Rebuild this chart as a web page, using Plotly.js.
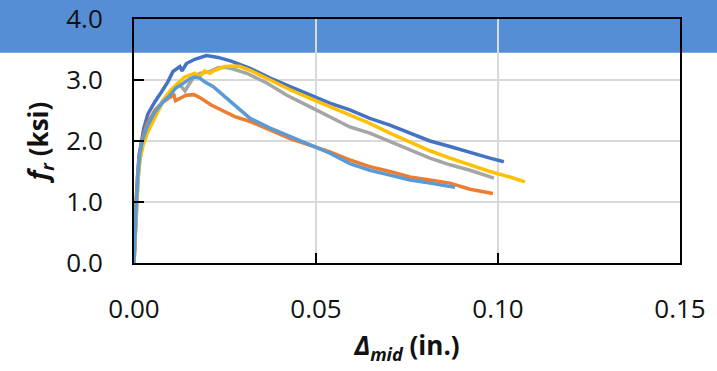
<!DOCTYPE html>
<html>
<head>
<meta charset="utf-8">
<script src="https://cdn.plot.ly/plotly-3.0.1.min.js"></script>
<style>html,body{margin:0;padding:0;background:#fff;}#chart{width:717px;height:371px;}</style>
</head>
<body>
<div id="chart"></div>
<script>
// Series 1 (dark blue)
const x1 = [0,0.00027,0.0006,0.001,0.0014,0.002,0.0027,0.0038,0.0057,0.0075,0.0093,0.0107,0.0126,0.0132,0.0144,0.0167,0.0199,0.0231,0.0267,0.0319,0.0374,0.0429,0.0484,0.0538,0.0593,0.0648,0.0703,0.0758,0.0813,0.0868,0.0923,0.0978,0.1016];
const y1 = [0,0.46,0.95,1.44,1.77,1.96,2.21,2.44,2.64,2.80,2.97,3.14,3.22,3.15,3.27,3.34,3.40,3.37,3.31,3.19,3.03,2.89,2.75,2.62,2.51,2.37,2.26,2.13,2.00,1.91,1.81,1.72,1.66];
// Series 2 (orange)
const x2 = [0,0.00022,0.00055,0.001,0.0015,0.0022,0.0036,0.0058,0.008,0.0099,0.011,0.0114,0.0124,0.0143,0.0165,0.0184,0.0212,0.0239,0.0277,0.0319,0.0374,0.0429,0.0484,0.0538,0.0593,0.0648,0.0703,0.0758,0.0813,0.0868,0.0923,0.0986];
const y2 = [0,0.54,1.03,1.44,1.77,2.02,2.28,2.51,2.64,2.72,2.75,2.66,2.69,2.75,2.76,2.70,2.59,2.51,2.40,2.32,2.18,2.04,1.93,1.82,1.69,1.58,1.50,1.41,1.36,1.31,1.21,1.14];
// Series 3 (gray)
const x3 = [0,0.00027,0.0007,0.0011,0.0016,0.0025,0.0038,0.0058,0.008,0.0099,0.0115,0.0126,0.014,0.0151,0.0165,0.0181,0.0209,0.0231,0.0253,0.0272,0.031,0.0365,0.042,0.0484,0.0538,0.0593,0.0648,0.0703,0.0758,0.0813,0.0868,0.0923,0.0989];
const y3 = [0,0.41,0.90,1.36,1.69,1.97,2.21,2.46,2.67,2.80,2.90,2.92,2.82,2.93,3.05,3.11,3.14,3.20,3.21,3.18,3.11,2.95,2.75,2.56,2.40,2.23,2.13,1.99,1.85,1.72,1.61,1.52,1.39];
// Series 4 (yellow)
const x4 = [0,0.00027,0.0007,0.0011,0.0016,0.0025,0.0038,0.0066,0.0084,0.0102,0.0121,0.0139,0.0153,0.0167,0.018,0.0194,0.0208,0.0222,0.0249,0.0277,0.0291,0.0319,0.0374,0.0429,0.0484,0.0538,0.0593,0.0648,0.0703,0.0758,0.0813,0.0868,0.0923,0.0978,0.1033,0.1074];
const y4 = [0,0.38,0.87,1.36,1.69,1.93,2.15,2.48,2.70,2.84,2.95,3.05,3.08,3.11,3.05,3.15,3.11,3.16,3.22,3.23,3.22,3.16,3.00,2.84,2.70,2.56,2.43,2.29,2.13,1.99,1.84,1.72,1.61,1.50,1.41,1.33];
// Series 5 (light blue)
const x5 = [0,0.0002,0.0006,0.0011,0.0016,0.0025,0.0038,0.0058,0.008,0.0099,0.0115,0.0129,0.0153,0.0167,0.0181,0.0194,0.0218,0.0255,0.0282,0.0319,0.0374,0.0429,0.0484,0.0538,0.0593,0.0648,0.0703,0.0758,0.0813,0.0849,0.0882];
const y5 = [0,0.38,0.92,1.46,1.80,2.05,2.26,2.48,2.64,2.75,2.87,2.92,3.02,3.05,3.03,2.97,2.89,2.70,2.56,2.37,2.21,2.07,1.93,1.80,1.63,1.52,1.44,1.36,1.31,1.28,1.24];

const seriesX = [x1, x2, x3, x4, x5];
const seriesY = [y1, y2, y3, y4, y5];
const colors = ['#4472C4', '#ED7D31', '#A5A5A5', '#FFC000', '#5B9BD5'];

const data = seriesX.map((xs, i) => ({
  x: xs, y: seriesY[i], type: 'scatter', mode: 'lines',
  line: {color: colors[i], width: 3.5}, hoverinfo: 'skip'
}));

const fam = '"Open Sans", sans-serif';

const layout = {
  width: 717, height: 371,
  margin: {l: 134, r: 37, t: 19, b: 108, pad: 0},
  paper_bgcolor: '#ffffff',
  plot_bgcolor: 'rgba(0,0,0,0)',
  showlegend: false,
  font: {family: fam, size: 26, color: '#111'},
  xaxis: {
    range: [0, 0.15], dtick: 0.05, tick0: 0, tickformat: '.2f',
    ticks: 'inside', ticklen: 10, tickwidth: 2, tickcolor: '#000',
    showline: true, linecolor: '#000', linewidth: 2, mirror: true,
    showgrid: true, gridcolor: '#d9d9d9', gridwidth: 2, zeroline: false,
    tickfont: {family: fam, size: 26, color: '#111'},
    ticklabelstandoff: 22,
    title: {text: '<b><i>Δ</i><sub><i>mid</i></sub> (in.)</b>', font: {family: fam, size: 26, color: '#111'}, standoff: 12},
    fixedrange: true
  },
  yaxis: {
    range: [0, 4], dtick: 1, tick0: 0, tickformat: '.1f',
    ticks: 'inside', ticklen: 10, tickwidth: 2, tickcolor: '#000',
    showline: true, linecolor: '#000', linewidth: 2, mirror: true,
    showgrid: true, gridcolor: '#d9d9d9', gridwidth: 2, zeroline: false,
    tickfont: {family: fam, size: 26, color: '#111'},
    ticklabelstandoff: 24,
    title: {text: '<b><i>f</i><sub><i>r</i></sub> (ksi)</b>', font: {family: fam, size: 26, color: '#111'}, standoff: 10},
    fixedrange: true
  },
  shapes: [{
    type: 'rect', xref: 'paper', yref: 'paper', layer: 'below',
    x0: -0.26, x1: 1.08, y0: 0.862, y1: 1.08,
    fillcolor: '#558ED5', line: {width: 0}
  }]
};

Plotly.newPlot('chart', data, layout, {staticPlot: true, displayModeBar: false});
</script>
</body>
</html>
